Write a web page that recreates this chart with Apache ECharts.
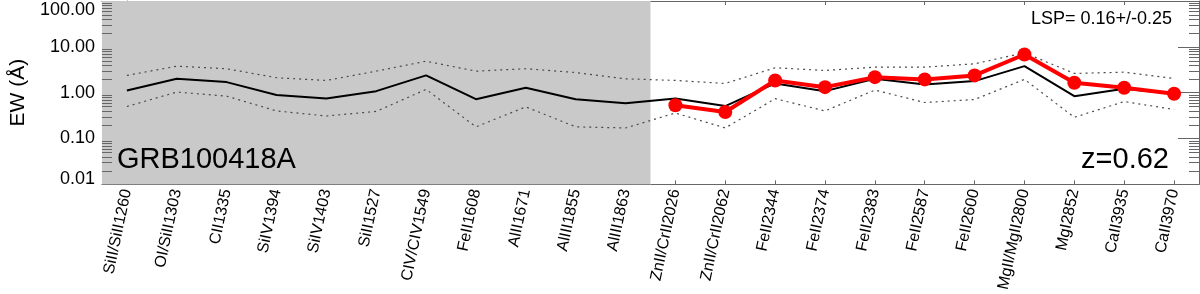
<!DOCTYPE html>
<html>
<head>
<meta charset="utf-8">
<script src="https://cdn.jsdelivr.net/npm/echarts@6/dist/echarts.min.js"></script>
<style>
html,body{margin:0;padding:0;background:#fff;}
#chart{width:1200px;height:294px;}
</style>
</head>
<body>
<div id="chart"></div>
<script>
const categories = ['SiII/SiII1260','OI/SiII1303','CII1335','SiIV1394','SiIV1403','SiII1527','CIV/CIV1549','FeII1608','AlII1671','AlIII1855','AlIII1863','ZnII/CrII2026','ZnII/CrII2062','FeII2344','FeII2374','FeII2383','FeII2587','FeII2600','MgII/MgII2800','MgI2852','CaII3935','CaII3970'];
const ewMean  = [1.12, 2.01, 1.70, 0.89, 0.75, 1.08, 2.38, 0.72, 1.28, 0.72, 0.59, 0.75, 0.51, 1.59, 1.08, 2.01, 1.51, 1.79, 3.79, 0.84, 1.22, 0.95];
const ewUpper = [2.38, 3.79, 3.33, 2.12, 1.85, 2.95, 4.86, 2.95, 3.33, 2.75, 2.01, 1.85, 1.59, 3.49, 3.05, 3.60, 3.60, 4.27, 7.40, 2.63, 2.80, 2.05];
const ewLower = [0.50, 1.03, 0.84, 0.40, 0.31, 0.39, 1.18, 0.18, 0.49, 0.18, 0.17, 0.36, 0.17, 0.74, 0.40, 1.14, 0.61, 0.71, 1.95, 0.29, 0.64, 0.43];
const ewGrb   = [null, null, null, null, null, null, null, null, null, null, null, 0.53, 0.38, 1.85, 1.32, 2.18, 1.95, 2.38, 6.80, 1.65, 1.28, 0.95];
const shadedRange = [-0.5, 10.5];
const yMin = 0.01, yMax = 100;
const minorTickValues = [0.02,0.03,0.04,0.05,0.06,0.07,0.08,0.09,0.2,0.3,0.4,0.5,0.6,0.7,0.8,0.9,2,3,4,5,6,7,8,9,20,30,40,50,60,70,80,90];
const titleText = 'GRB100418A';
const redshiftText = 'z=0.62';
const lspText = 'LSP= 0.16+/-0.25';

const FONT = '"Liberation Sans", Arial, Helvetica, sans-serif';
const AX = '#666';

const chart = echarts.init(document.getElementById('chart'), null, {renderer: 'canvas'});

const dotted = {color: '#4a4a4a', width: 1.2, type: [2, 4]};

const option = {
  animation: false,
  backgroundColor: '#fff',
  textStyle: {fontFamily: FONT},
  grid: {left: 92, right: 1, top: 1, bottom: 109, containLabel: false},
  xAxis: [
    {
      type: 'category', data: categories, boundaryGap: true, position: 'bottom',
      axisLine: {show: true, lineStyle: {color: AX, width: 1}},
      axisTick: {show: true, inside: true, alignWithLabel: true, length: 4, lineStyle: {color: AX}},
      axisLabel: {rotate: 78, fontSize: 16, color: '#000', fontFamily: FONT, margin: 5, interval: 0},
      splitLine: {show: false}
    },
    {
      type: 'category', data: categories, boundaryGap: true, position: 'top',
      axisLine: {show: true, lineStyle: {color: AX, width: 1}},
      axisTick: {show: true, inside: true, alignWithLabel: true, length: 4, lineStyle: {color: AX}},
      axisLabel: {show: false},
      splitLine: {show: false}
    },
    {
      type: 'value', min: -0.5, max: 21.5, show: false
    }
  ],
  yAxis: [
    {
      type: 'log', logBase: 10, min: yMin, max: yMax, position: 'left',
      name: 'EW (Å)', nameLocation: 'middle', nameRotate: 90, nameGap: 66,
      nameTextStyle: {fontSize: 21, color: '#000', fontFamily: FONT},
      axisLine: {show: true, lineStyle: {color: AX, width: 1}},
      axisTick: {show: true, inside: true, length: 21, lineStyle: {color: AX}},
      axisLabel: {
        fontSize: 18, color: '#000', fontFamily: FONT, margin: 7,
        formatter: function (v) {
          const s = Number(v).toFixed(2);
          if (Math.abs(v - yMax) < 1e-6) return '{top|' + s + '}';
          if (Math.abs(v - yMin) < 1e-9) return '{bot|' + s + '}';
          return s;
        },
        rich: {
          top: {fontSize: 18, color: '#000', fontFamily: FONT, padding: [19, 0, 0, 0]},
          bot: {fontSize: 18, color: '#000', fontFamily: FONT, padding: [0, 0, 10, 0]}
        }
      },
      splitLine: {show: false}
    },
    {
      type: 'log', logBase: 10, min: yMin, max: yMax, position: 'right',
      axisLine: {show: true, lineStyle: {color: AX, width: 1}},
      axisTick: {show: true, inside: true, length: 21, lineStyle: {color: AX}},
      axisLabel: {show: false},
      splitLine: {show: false}
    }
  ],
  series: [
    {
      name: 'shade', type: 'line', xAxisIndex: 2, yAxisIndex: 0, data: [], silent: true, z: 0,
      markArea: {
        silent: true,
        itemStyle: {color: '#c9c9c9', opacity: 1},
        data: [[{xAxis: shadedRange[0]}, {xAxis: shadedRange[1]}]]
      }
    },
    {
      name: 'minorTicks', type: 'custom', xAxisIndex: 2, yAxisIndex: 0, silent: true, z: 5, clip: false,
      data: minorTickValues.map(v => [0, v]),
      renderItem: function (params, api) {
        const cs = params.coordSys;
        const y = Math.round(api.coord([0, api.value(1)])[1]) + 0.5;
        const st = {stroke: AX, lineWidth: 1};
        return {
          type: 'group',
          children: [
            {type: 'line', shape: {x1: cs.x, y1: y, x2: cs.x + 10, y2: y}, style: st},
            {type: 'line', shape: {x1: cs.x + cs.width - 10, y1: y, x2: cs.x + cs.width, y2: y}, style: st}
          ]
        };
      }
    },
    {
      name: 'upper', type: 'line', xAxisIndex: 0, yAxisIndex: 0, data: ewUpper,
      symbol: 'none', lineStyle: dotted, z: 3
    },
    {
      name: 'lower', type: 'line', xAxisIndex: 0, yAxisIndex: 0, data: ewLower,
      symbol: 'none', lineStyle: dotted, z: 3
    },
    {
      name: 'mean', type: 'line', xAxisIndex: 0, yAxisIndex: 0, data: ewMean,
      symbol: 'none', lineStyle: {color: '#000', width: 2}, z: 4
    },
    {
      name: 'grb', type: 'line', xAxisIndex: 0, yAxisIndex: 0, data: ewGrb,
      symbol: 'circle', symbolSize: 14, showSymbol: true, connectNulls: false,
      itemStyle: {color: '#ff0000'},
      lineStyle: {color: '#ff0000', width: 4}, z: 6
    }
  ],
  graphic: [
    {type: 'text', z: 10, style: {x: 117, y: 160, text: titleText, font: '29px ' + FONT, fill: '#000', textAlign: 'left', textVerticalAlign: 'middle'}},
    {type: 'text', z: 10, style: {x: 1169, y: 160, text: redshiftText, font: '29px ' + FONT, fill: '#000', textAlign: 'right', textVerticalAlign: 'middle'}},
    {type: 'text', z: 10, style: {x: 1172, y: 19, text: lspText, font: '18px ' + FONT, fill: '#000', textAlign: 'right', textVerticalAlign: 'middle'}}
  ]
};

chart.setOption(option);
</script>
</body>
</html>
